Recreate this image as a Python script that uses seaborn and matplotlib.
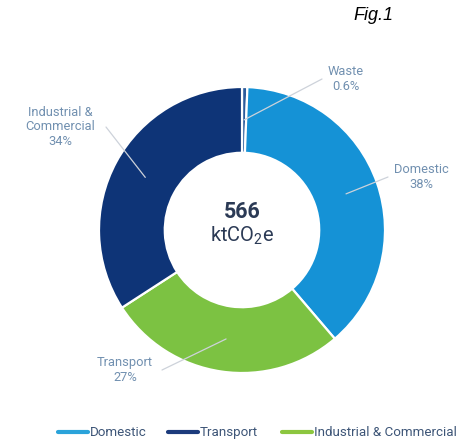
import matplotlib
matplotlib.use("Agg")
import matplotlib.pyplot as plt
from matplotlib.lines import Line2D
import numpy as np
import seaborn as sns

# ---- data ----
categories = ["Waste", "Domestic", "Transport", "Industrial & Commercial"]
shares = [0.6, 38, 27, 34]
slice_labels = ["Waste\n0.6%", "Domestic\n38%", "Transport\n27%", "Industrial &\nCommercial\n34%"]
slice_colors = ["#2c5c9c", "#1592d6", "#7cc242", "#0e3477"]
total_value = "566"
total_unit = "ktCO$_2$e"
legend_labels = ["Domestic", "Transport", "Industrial & Commercial"]
legend_colors = ["#2aa3da", "#1c3b7c", "#8cc63f"]

sns.set_theme(style="white")
plt.rcParams["font.family"] = ["Roboto", "DejaVu Sans"]
plt.rcParams["mathtext.fontset"] = "custom"
plt.rcParams["mathtext.rm"] = "Roboto"

W, H = 460, 441
fig = plt.figure(figsize=(W / 100, H / 100), dpi=100)
cx, cy, R = 242, 230, 143
ax = fig.add_axes([(cx - R) / W, (H - cy - R) / H, 2 * R / W, 2 * R / H])

wedges, _ = ax.pie(shares, colors=slice_colors, startangle=90, counterclock=False,
                   radius=1.0, wedgeprops=dict(width=0.46, edgecolor="white", linewidth=1.6))
ax.set_xlim(-1, 1)
ax.set_ylim(-1, 1)
ax.set_aspect("equal")
ax.axis("off")

def to_data(px, py):
    return ((px - cx) / R, (cy - py) / R)

# leader end points and text centres (pixel positions)
line_ends = [(322, 79), (388, 177), (162, 370), (106, 127)]
text_pos = [(346, 79), (421, 177), (125, 370), (60, 127)]
label_color = "#7190b0"
line_color = "#cdd2da"
for w, lab, le, tp in zip(wedges, slice_labels, line_ends, text_pos):
    mid = np.deg2rad((w.theta1 + w.theta2) / 2)
    r = 0.77
    x0, y0 = r * np.cos(mid), r * np.sin(mid)
    x1, y1 = to_data(*le)
    ax.plot([x0, x1], [y0, y1], color=line_color, lw=0.9, solid_capstyle="round", clip_on=False)
    tx, ty = to_data(*tp)
    ax.text(tx, ty, lab, ha="center", va="center", fontsize=9.3, color=label_color,
            linespacing=1.15)

ax.text(0, to_data(0, 212)[1], total_value, ha="center", va="center", fontsize=15.5,
        fontweight="bold", color="#2b3a55")
ax.text(0, to_data(0, 236)[1], total_unit, ha="center", va="center", fontsize=14.5,
        color="#2b3a55")

fig.text(373 / W, 1 - 16 / H, "Fig.1", ha="center", va="center", fontsize=13,
         style="italic", color="black", family=["Liberation Sans", "DejaVu Sans"])

# legend: line key + label, laid out in a row along the bottom
legend_x = [58, 168, 282]   # pixel x of each key start
key_len, pad = 30, 2
for x, lab, col in zip(legend_x, legend_labels, legend_colors):
    fig.add_artist(Line2D([x / W, (x + key_len) / W], [1 - 432 / H, 1 - 432 / H],
                          transform=fig.transFigure, color=col, lw=3))
    fig.text((x + key_len + pad) / W, 1 - 436 / H, lab, ha="left", va="baseline",
             fontsize=9.6, color="#3d5577")

fig.savefig("out.png", dpi=100, facecolor="white")
